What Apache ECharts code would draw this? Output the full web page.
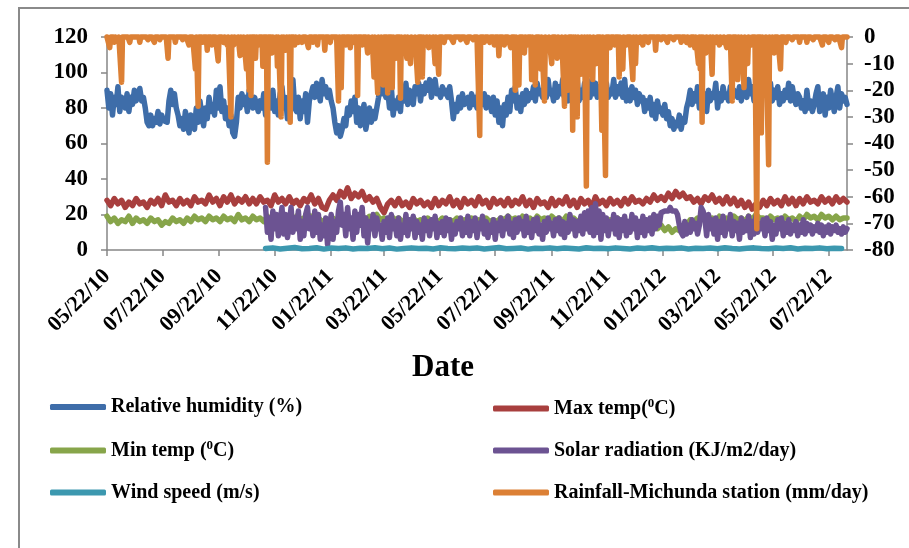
<!DOCTYPE html>
<html>
<head>
<meta charset="utf-8">
<script src="https://cdn.jsdelivr.net/npm/echarts@6.0.0/dist/echarts.min.js"></script>
<style>
  html, body { margin: 0; padding: 0; background: #fff; }
  #chart { width: 909px; height: 548px; }
</style>
</head>
<body>
<div id="chart"></div>
<script>
// x axis: one category per day from 05/22/10, labels every two months
const tickLabels = ['05/22/10', '07/22/10', '09/22/10', '11/22/10', '01/22/11', '03/22/11', '05/22/11',
  '07/22/11', '09/22/11', '11/22/11', '01/22/12', '03/22/12', '05/22/12', '07/22/12'];
const firstDay = Date.UTC(2010, 4, 22);
const dayCount = 813;

// values: humidity and solar every 2nd day, temperatures every 4th, wind every 8th
const humidity = [90,80,88,76,86,82,92,78,86,84, 80,88,78,86,82,90,84,88,91,84,
  86,80,72,70,76,70,74,72,78,71, 76,73,74,72,84,90,82,88,80,76,
  70,74,68,78,72,66,76,70,68,80, 72,84,76,70,80,74,86,78,82,76,
  90,80,92,78,84,74,80,70,76,66, 64,72,86,80,88,82,86,78,90,84,
  80,86,82,78,84,80,88,76,82,86, 80,90,78,84,76,88,92,80,86,74,
  82,90,96,80,78,86,74,84,78,88, 72,84,88,92,86,94,90,84,96,88,
  92,86,90,84,80,72,66,70,64,68, 74,70,80,76,84,78,86,72,80,70,
  76,82,68,74,80,72,78,74,80,86, 96,88,92,86,90,80,92,76,84,80,
  86,78,92,84,94,82,90,86,82,92, 88,94,84,92,88,94,90,96,86,92,
  96,88,90,86,92,88,90,86,92,84, 74,82,78,86,80,88,82,84,86,80,
  88,82,86,80,90,84,82,88,80,86, 84,78,86,76,84,72,80,70,82,76,
  86,78,90,84,92,80,86,78,88,82, 90,84,88,86,92,84,94,88,90,86,
  92,86,96,88,90,84,94,86,92,88, 96,86,90,84,94,86,92,88,96,84,
  90,86,94,88,92,86,96,88,94,86, 92,86,96,88,94,86,90,88,96,86,
  92,88,94,86,96,84,90,84,92,86, 90,82,88,84,86,78,84,80,86,76,
  82,74,84,78,80,76,82,74,78,70, 74,68,72,70,76,68,74,72,80,84,
  90,82,88,84,92,80,90,84,88,78, 90,84,88,86,94,80,88,84,92,86,
  88,84,92,86,90,88,86,92,84,90, 88,86,96,88,92,84,94,88,90,86,
  96,88,92,90,94,84,90,86,92,82, 88,84,90,86,94,84,92,86,82,88,
  86,80,84,78,90,80,84,78,82,88, 92,78,84,88,76,86,80,90,84,78,
  86,92,80,88,84,86,82];
const maxTemp = [28,25,29,26,28,24,27,25,29,26, 27,24,28,26,29,25,31,27,28,25,
  29,26,28,25,30,27,28,26,31,27, 29,25,30,27,31,26,29,27,30,26,
  29,26,30,27,28,25,31,27,29,26, 30,26,28,25,29,27,31,26,29,24,
  23,28,31,28,33,30,35,29,32,30, 33,28,30,27,29,24,21,26,28,25,
  29,25,27,24,29,26,28,25,27,24, 29,25,28,26,30,25,28,24,29,26,
  28,25,30,26,28,24,29,26,28,25, 29,25,28,26,30,25,28,24,29,26,
  27,24,29,25,28,26,30,25,28,24, 29,26,28,24,30,26,28,25,29,26,
  28,25,29,26,30,27,28,26,29,27, 31,28,30,28,32,29,33,30,32,29,
  30,27,29,26,30,28,31,27,29,26, 30,26,29,25,28,24,27,23,26,24,
  28,25,29,26,28,25,30,26,29,25, 29,26,30,27,28,26,30,27,29,26,
  30,27,29,27];
const minTemp = [19,16,18,15,17,16,19,15,18,16, 17,15,18,16,17,14,16,15,18,16,
  17,15,18,16,19,17,18,16,19,17, 18,16,19,17,18,16,20,17,18,16,
  19,17,18,16,19,17,18,16,19,17, 18,16,19,17,18,16,19,17,18,16,
  17,15,18,16,17,15,18,16,17,15, 18,17,19,18,20,17,18,16,19,17,
  18,16,17,15,18,16,17,15,18,16, 17,16,18,15,17,16,18,16,17,15,
  18,16,17,15,18,16,17,16,18,17, 19,17,18,16,19,17,18,16,19,17,
  18,16,19,17,18,16,19,17,18,16, 17,16,18,15,17,16,18,15,17,16,
  18,16,17,15,16,13,15,12,14,13, 15,12,14,11,13,10,12,11,13,14,
  17,16,18,17,19,17,18,16,19,17, 18,16,19,17,18,16,19,17,20,18,
  18,16,19,17,18,16,19,17,18,16, 19,17,20,18,19,17,20,18,19,17,
  19,17,18,18];
const solarStart = 174;
const solar = [24,10,18,6,22,12,20,8,16,24, 9,20,7,14,24,10,18,12,22,6,
  16,8,20,24,12,18,8,22,10,20, 6,14,8,18,3,12,20,6,16,10,
  22,27,14,20,8,24,12,18,6,22, 10,20,14,24,8,18,4,16,12,20,
  8,18,12,14,6,16,10,18,7,20, 12,16,8,18,6,14,10,20,8,17,
  12,19,7,16,10,14,6,18,11,16, 8,17,12,19,7,15,10,16,8,18,
  11,17,6,14,9,16,12,18,8,15, 10,19,8,16,11,18,7,15,12,19,
  9,16,7,14,10,17,6,15,11,18, 8,16,12,19,9,15,7,17,10,18,
  12,16,8,19,10,15,7,17,11,18, 9,14,6,16,10,18,12,15,8,17,
  11,18,9,16,7,15,10,20,12,17, 8,16,11,19,9,21,12,22,10,24,
  8,26,10,22,6,20,11,18,8,16, 12,20,9,18,7,17,11,19,8,16,
  10,20,12,18,7,16,10,19,8,17, 11,18,9,20,12,19,14,21,20,22,
  23,22,24,22,21,22,20,14,10,8, 16,9,14,10,17,12,15,9,14,24,
  22,18,8,20,12,17,9,18,6,16, 10,19,8,15,12,20,8,16,11,15,
  6,18,10,16,11,19,7,16,9,19, 10,15,12,17,8,18,11,16,6,14,
  9,17,12,18,8,15,10,17,9,14, 11,16,8,14,10,17,9,15,11,14,
  9,13,11,15,10,14,8,13,10,14, 9,13,11,14,10,12,9,13,10,12];
const windStart = 174;
const wind = [0.8,1.2,0.6,1.0,1.4,0.7,0.9,1.3,0.5,1.1,0.8,1.2,0.6,1.0,0.9,1.3,0.7,1.1,0.5,0.9,
  1.2,0.8,1.0,0.6,1.3,0.9,0.7,1.1,0.8,1.2,0.6,1.0,1.4,0.7,0.9,1.1,0.5,1.0,0.8,1.2,
  0.7,1.1,0.9,0.6,1.3,0.8,1.0,0.7,1.2,0.9,0.6,1.1,0.8,1.3,0.7,1.0,0.9,1.2,0.6,1.0,
  0.8,1.1,0.7,1.3,0.9,0.6,1.0,1.2,0.8,0.7,1.1,0.9,1.3,0.6,1.0,0.8,1.2,0.7,1.0,0.9];
// rainfall events: [day index, mm/day shown negative on the right axis]; other days 0
const rainEvents = [[3,-4],[8,-2],[12,-1],[16,-17],[25,-2],[36,-2],[45,-1],[52,-2],[58,-1],[67,-8],
  [75,-2],[83,-1],[90,-3],[97,-12],[100,-26],[105,-2],[110,-5],[115,-3],[122,-9],[128,-2],
  [132,-3],[136,-30],[139,-3],[143,-2],[146,-7],[149,-4],[153,-12],[156,-20],[158,-22],[163,-8],
  [166,-3],[171,-11],[176,-47],[181,-6],[185,-3],[187,-11],[191,-30],[193,-4],[196,-5],[199,-3],
  [201,-32],[206,-3],[210,-2],[214,-2],[221,-4],[226,-2],[231,-3],[239,-5],[245,-2],[254,-24],
  [257,-19],[262,-3],[267,-4],[270,-2],[275,-22],[280,-3],[286,-6],[290,-4],[293,-15],[297,-21],
  [300,-12],[303,-18],[308,-21],[313,-19],[317,-8],[322,-23],[326,-3],[329,-8],[333,-10],[337,-4],
  [341,-17],[346,-15],[350,-3],[353,-4],[357,-2],[360,-10],[364,-14],[370,-2],[380,-2],[388,-1],
  [395,-2],[402,-1],[409,-37],[414,-2],[420,-2],[425,-3],[430,-7],[436,-3],[443,-4],[448,-20],
  [452,-18],[458,-6],[461,-3],[466,-16],[470,-18],[476,-12],[480,-24],[484,-4],[488,-10],[494,-8],
  [498,-4],[502,-26],[506,-20],[511,-35],[513,-5],[516,-30],[520,-14],[523,-4],[526,-56],[529,-3],
  [533,-16],[537,-10],[543,-35],[547,-52],[552,-4],[557,-3],[562,-15],[566,-12],[570,-3],[577,-16],
  [580,-10],[584,-2],[588,-3],[594,-2],[602,-5],[608,-1],[615,-2],[622,-1],[630,-2],[636,-2],
  [640,-3],[645,-4],[649,-10],[651,-12],[653,-32],[657,-6],[661,-3],[664,-14],[668,-2],[672,-3],
  [676,-2],[680,-4],[686,-24],[692,-16],[695,-4],[699,-19],[703,-10],[707,-3],[713,-72],[718,-36],
  [722,-20],[726,-48],[729,-4],[732,-6],[739,-12],[745,-2],[752,-1],[760,-2],[768,-2],[775,-1],
  [785,-3],[792,-2],[799,-1],[806,-4]];

const names = ['Relative humidity (%)', 'Max temp(⁰C)', 'Min temp (⁰C)', 'Solar radiation (KJ/m2/day)',
  'Wind speed (m/s)', 'Rainfall-Michunda station (mm/day)'];
const colors = ['#3E6DA9', '#A83F3E', '#87A54A', '#6C5392', '#3C98AF', '#DC8035'];

function pad(n) { return (n < 10 ? '0' : '') + n; }
const categories = [];
for (let i = 0; i < dayCount; i++) {
  const d = new Date(firstDay + i * 86400000);
  categories.push(pad(d.getUTCMonth() + 1) + '/' + pad(d.getUTCDate()) + '/' + pad(d.getUTCFullYear() % 100));
}
const tickSet = new Set(tickLabels);
const showTick = function (index, value) { return tickSet.has(value); };

function pairs(values, start, step) {
  return values.map(function (v, i) { return [start + i * step, v]; });
}
const rainDaily = new Array(dayCount).fill(0);
rainEvents.forEach(function (e) { rainDaily[e[0]] = e[1]; });

const font = 'Liberation Serif, Times New Roman, serif';
const axisColor = '#868686';

const seriesData = [
  pairs(humidity, 0, 2),
  pairs(maxTemp, 0, 4),
  pairs(minTemp, 0, 4),
  pairs(solar, solarStart, 2),
  pairs(wind, windStart, 8),
  rainDaily.map(function (v, i) { return [i, v]; })
];

let myChart = echarts.init(document.getElementById('chart'));

const legendBase = {
  orient: 'vertical',
  top: 397,
  padding: 0,
  itemWidth: 56,
  itemHeight: 6,
  itemGap: 22,
  icon: 'roundRect',
  textStyle: {
    fontFamily: font, fontWeight: 'bold', fontSize: 20, color: '#000',
    rich: { sup: { fontFamily: font, fontWeight: 'bold', fontSize: 13, verticalAlign: 'top', padding: [0, 0, 10, 0] } }
  },
  formatter: function (name) { return name.replace('⁰', '{sup|0}'); }
};

option = {
  animation: false,
  backgroundColor: '#fff',
  grid: { left: 107, right: 62, top: 37, bottom: 298 },
  legend: [
    Object.assign({}, legendBase, { left: 50, data: [names[0], names[2], names[4]] }),
    Object.assign({}, legendBase, { left: 493, data: [names[1], names[3], names[5]] })
  ],
  graphic: [
    { type: 'rect', shape: { x: 19, y: 8, width: 1200, height: 1200 }, style: { fill: 'none', stroke: '#8a8a8a', lineWidth: 2 }, silent: true },
    { type: 'text', left: 412, top: 352, style: { text: 'Date', fontFamily: font, fontWeight: 'bold', fontSize: 31, fill: '#000' } }
  ],
  xAxis: {
    type: 'category',
    data: categories,
    boundaryGap: false,
    axisLine: { lineStyle: { color: axisColor, width: 1.5 } },
    axisTick: { interval: showTick, length: 6, lineStyle: { color: axisColor, width: 1.5 } },
    axisLabel: { interval: showTick, rotate: 45, margin: 23, fontFamily: font, fontWeight: 'bold', fontSize: 22, color: '#000' },
    splitLine: { show: false }
  },
  yAxis: [
    {
      type: 'value', min: 0, max: 120, interval: 20,
      axisLine: { show: true, lineStyle: { color: axisColor, width: 1.5 } },
      axisTick: { show: true, length: 6, lineStyle: { color: axisColor, width: 1.5 } },
      axisLabel: { margin: 19, fontFamily: font, fontWeight: 'bold', fontSize: 23, color: '#000' },
      splitLine: { show: false }
    },
    {
      type: 'value', min: -80, max: 0, interval: 10, position: 'right',
      axisLine: { show: true, lineStyle: { color: axisColor, width: 1.5 } },
      axisTick: { show: true, length: 6, lineStyle: { color: axisColor, width: 1.5 } },
      axisLabel: { margin: 17, fontFamily: font, fontWeight: 'bold', fontSize: 23, color: '#000' },
      splitLine: { show: false }
    }
  ],
  series: names.map(function (name, k) {
    return {
      name: name,
      type: 'line',
      yAxisIndex: k === 5 ? 1 : 0,
      data: seriesData[k],
      symbol: 'none',
      clip: false,
      itemStyle: { color: colors[k] },
      lineStyle: { color: colors[k], width: 5.5, join: 'round', cap: 'round' }
    };
  })
};
myChart.setOption(option);
</script>
</body>
</html>
